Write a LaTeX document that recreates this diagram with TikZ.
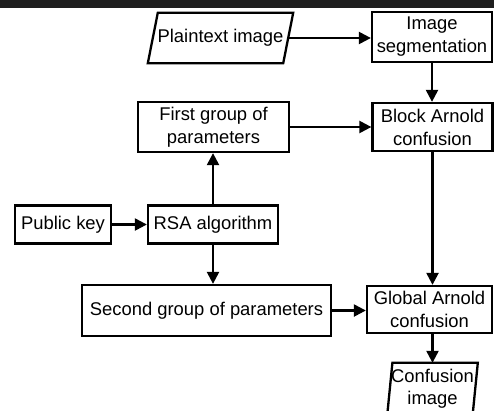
\documentclass[tikz,border=0pt]{standalone}
\usepackage{fontspec}
\setmainfont{Liberation Sans}
\usetikzlibrary{arrows.meta}
\begin{document}
\begin{tikzpicture}[x=1pt,y=-1pt,
  box/.style={draw, line width=2.3pt, inner sep=0pt, align=center, font=\fontsize{18.4}{23}\selectfont},
  txt/.style={inner sep=0pt, align=center, font=\fontsize{18.4}{22}\selectfont},
  para/.style={line width=2.3pt, line join=miter},
  arr/.style={line width=2.3pt, -{Triangle[length=12pt,width=12pt]}}]
\clip (0,0) rectangle (494,410);
\fill[black!88] (0,0) rectangle (494,8);
% nodes
\node[txt, minimum width=135pt, minimum height=50pt] (plain) at (220.5,38) {Plaintext image};
\draw[para] ([xshift=5pt]plain.north west) -- ([xshift=5pt]plain.north east)
  -- ([xshift=-5pt]plain.south east) -- ([xshift=-5pt]plain.south west) -- cycle;
\node[box, minimum width=120pt, minimum height=50pt] (seg) at (432,37) {Image\\segmentation};
\node[box, minimum width=120pt, minimum height=48pt] (block) at (432.5,127) {Block Arnold\\confusion};
\node[box, minimum width=151pt, minimum height=50pt] (first) at (213.5,127) {First group of\\parameters};
\node[box, minimum width=130pt, minimum height=38pt] (rsa) at (213,224.5) {RSA algorithm};
\node[box, minimum width=96pt, minimum height=38pt] (pub) at (63,224.5) {Public key};
\node[box, minimum width=249pt, minimum height=51pt] (second) at (206.5,310.5) {Second group of parameters};
\node[box, minimum width=125pt, minimum height=47pt] (global) at (429.5,309.5) {Global Arnold\\confusion};
\node[txt, minimum width=85pt, minimum height=52pt] (conf) at (432.5,389) {Confusion\\image};
\draw[para] ([xshift=2.6pt]conf.north west) -- ([xshift=2.6pt]conf.north east)
  -- ([xshift=-2.6pt]conf.south east) -- ([xshift=-2.6pt]conf.south west) -- cycle;
% connectors
\draw[arr] (plain.east) -- (plain.east -| seg.west);
\draw[arr] (seg.south) -- (seg.south |- block.north);
\draw[arr] (first.east) -- (first.east -| block.west);
\draw[arr] (pub.east) -- (rsa.west);
\draw[arr] (rsa.north) -- (rsa.north |- first.south);
\draw[arr] (rsa.south) -- (rsa.south |- second.north);
\draw[arr] (block.south) -- (block.south |- global.north);
\draw[arr] (second.east) -- (second.east -| global.west);
\draw[arr] (block.south |- global.south) -- (block.south |- conf.north);
\end{tikzpicture}
\end{document}
